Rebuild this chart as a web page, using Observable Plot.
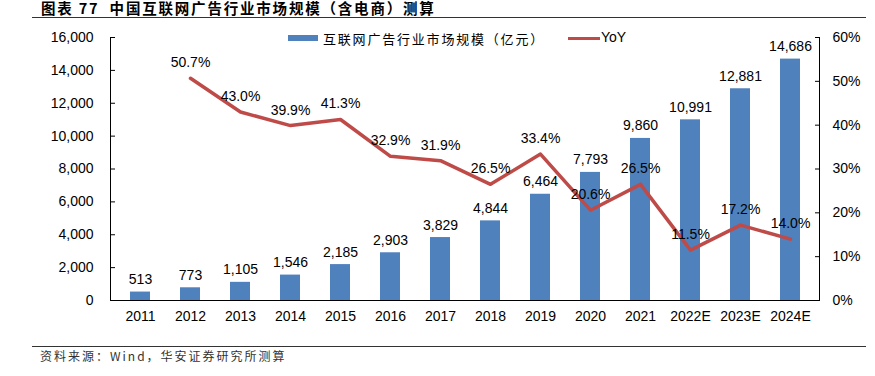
<!DOCTYPE html>
<html><head><meta charset="utf-8">
<script src="https://cdn.jsdelivr.net/npm/d3@7"></script>
<script src="https://cdn.jsdelivr.net/npm/@observablehq/plot@0.6"></script>
<style>
body{margin:0;background:#fff;}
#wrap{position:relative;width:875px;height:376px;overflow:hidden;background:#fff;}
#title{position:absolute;left:41px;top:-1px;font:bold 14.5px/18px "Noto Sans CJK SC";letter-spacing:1.8px;color:#000;white-space:nowrap;}
#tline{position:absolute;left:32px;top:16.5px;width:834px;height:1.5px;background:#333;}
#chart{position:absolute;left:0;top:20px;}
#src{position:absolute;left:40px;top:347px;font:12px "Noto Sans CJK SC";letter-spacing:2px;color:#333;white-space:nowrap;}
#sline{position:absolute;left:32px;top:346px;width:834px;height:1px;background:#333;}
.lg{position:absolute;}
</style></head>
<body>
<div id="wrap">
  <div id="title">图表 77&nbsp; 中国互联网广告行业市场规模（含电商）测算</div>
  <div id="tline"></div>
  <div id="chart"></div>
  <div class="lg" style="left:288px;top:35px;width:30px;height:6px;background:#4F81BD;"></div>
  <div class="lg" style="left:323px;top:29px;font:13px 'Noto Sans CJK SC';letter-spacing:1.8px;color:#000;white-space:nowrap;">互联网广告行业市场规模（亿元）</div>
  <div class="lg" style="left:568px;top:37px;width:32px;height:3px;background:#BE4B48;"></div>
  <div class="lg" style="left:601px;top:29px;font:14px 'Liberation Sans';color:#000;">YoY</div>
  <div id="sline"></div>
  <div id="src">资料来源：Wind，华安证券研究所测算</div>
</div>
<script>
const years = ["2011","2012","2013","2014","2015","2016","2017","2018","2019","2020","2021","2022E","2023E","2024E"];
const marketSize = [513,773,1105,1546,2185,2903,3829,4844,6464,7793,9860,10991,12881,14686];
const yoy = [null,50.7,43.0,39.9,41.3,32.9,31.9,26.5,33.4,20.6,26.5,11.5,17.2,14.0];
const leftTicks = [0,2000,4000,6000,8000,10000,12000,14000,16000];
const rightTicks = [0,10,20,30,40,50,60];

const K = 16000/60;
const bars = years.map((y,i)=>({year:y, value:marketSize[i]}));
const line = years.map((y,i)=>({year:y, yoy:yoy[i]})).filter(d=>d.yoy!=null);

const chart = Plot.plot({
  width:875, height:320,
  marginTop:17, marginBottom:40, marginLeft:110, marginRight:56,
  style:{fontFamily:"Liberation Sans, Arial, sans-serif", fontSize:"14px", color:"#000", background:"transparent"},
  x:{domain:years, paddingInner:0.6, paddingOuter:0.3},
  y:{domain:[0,16000]},
  marks:[
    Plot.barY(bars,{x:"year", y:"value", fill:"#4F81BD"}),
    Plot.lineY(line,{x:"year", y:d=>d.yoy*K, stroke:"#BE4B48", strokeWidth:3.5}),
    Plot.text(bars,{x:"year", y:"value", text:d=>d3.format(",")(d.value), lineAnchor:"bottom", dy:-8, fontSize:14, fill:"#000"}),
    Plot.text(line,{x:"year", y:d=>d.yoy*K, text:d=>d.yoy.toFixed(1)+"%", lineAnchor:"bottom", dy:-11, fontSize:14, fill:"#000"}),
    Plot.axisY(leftTicks,{anchor:"left", tickSize:-5, tickPadding:22, tickFormat:d3.format(","), label:null, fontSize:14}),
    Plot.axisY(rightTicks.map(v=>v*K),{anchor:"right", tickSize:-5, tickPadding:18, tickFormat:d=>Math.round(d/K)+"%", label:null, fontSize:14}),
    Plot.axisX({tickSize:0, tickPadding:11, label:null, fontSize:14}),
    Plot.frame({anchor:"left", stroke:"#000"}),
    Plot.frame({anchor:"right", stroke:"#000"}),
    Plot.frame({anchor:"bottom", stroke:"#000"})
  ]
});
document.getElementById("chart").appendChild(chart);
</script>
</body></html>
